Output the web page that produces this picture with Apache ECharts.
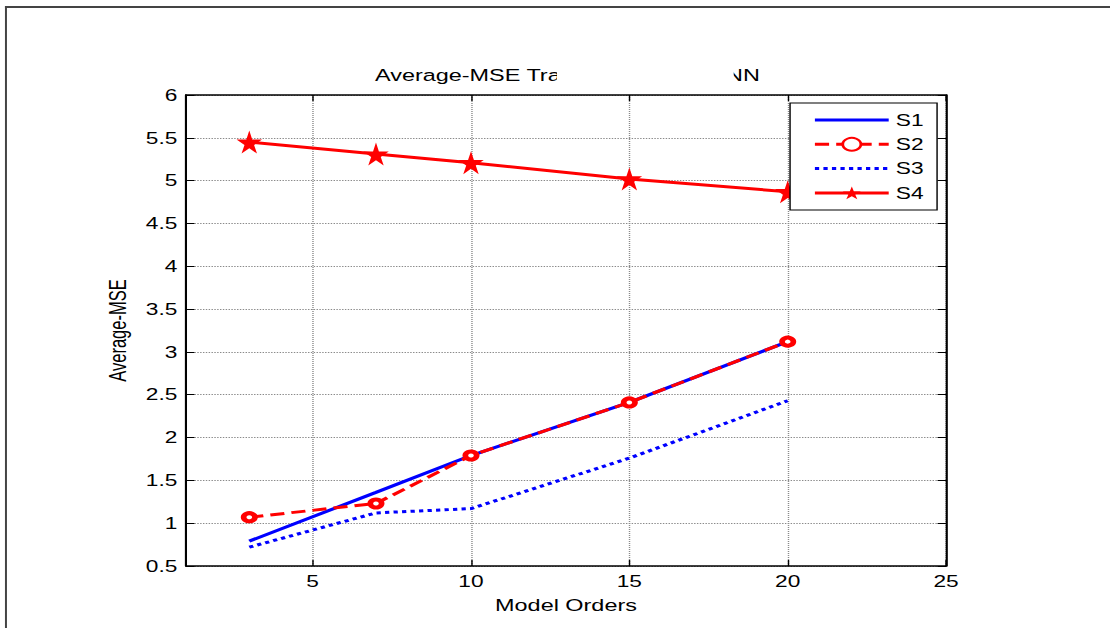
<!DOCTYPE html>
<html><head><meta charset="utf-8">
<script src="https://cdn.jsdelivr.net/npm/echarts@6/dist/echarts.min.js"></script>
<style>
html,body{margin:0;padding:0;background:#fff;overflow:hidden;width:1110px;height:628px}
#main{width:782px;height:628px;transform:scaleX(1.419437);transform-origin:0 0;}
</style>
</head><body><div id="main"></div>
<script>
// ---- data ----
const modelOrders = [3, 7, 10, 15, 20];
const s1 = [0.79, 1.36, 1.79, 2.41, 3.12];
const s2 = [1.07, 1.23, 1.79, 2.41, 3.12];
const s3 = [0.72, 1.12, 1.17, 1.76, 2.43];
const s4 = [5.45, 5.31, 5.21, 5.02, 4.87];
const seriesNames = ['S1', 'S2', 'S3', 'S4'];
const xTicks = [5, 10, 15, 20, 25];
const xMin = 1, xMax = 25;
const yMin = 0.5, yMax = 6, yStep = 0.5;
const titleHead = 'Average-MSE Tra';
const titleTail = 'NN';
const xName = 'Model Orders';
const yName = 'Average-MSE';

const FONT = "'Liberation Sans', Arial, sans-serif";
const pairs = arr => modelOrders.map((x, i) => [x, arr[i]]);
const star = 'path://M50,0 L61,35 L98,35 L68,57 L79,91 L50,70 L21,91 L32,57 L2,35 L39,35 Z';

const chart = echarts.init(document.getElementById('main'), null, {renderer: 'svg'});
const tickStyle = {show: true, inside: true, length: 6, lineStyle: {color: '#000', width: 1}};
const axisLineStyle = {show: true, onZero: false, lineStyle: {color: '#000', width: 1.5}};
const gridLine = {show: true, lineStyle: {color: '#8a8a8a', width: 1, type: [1, 1]}};
const noSymbol = {opacity: 0, color: 'rgba(0,0,0,0)', borderColor: 'rgba(0,0,0,0)'};

chart.setOption({
  animation: false,
  backgroundColor: '#fff',
  textStyle: {fontFamily: FONT},
  grid: {left: 131, right: 115.5, top: 95, bottom: 62, containLabel: false},
  legend: {
    orient: 'vertical', left: 556.6, top: 103,
    padding: [9, 9.5, 9, 16],
    itemWidth: 52, itemHeight: 16, itemGap: 8.3,
    backgroundColor: '#fff', borderColor: '#000', borderWidth: 1, borderRadius: 0,
    lineStyle: {width: 3},
    textStyle: {fontFamily: FONT, fontSize: 16, color: '#000', lineHeight: 16},
    data: [
      {name: seriesNames[0], itemStyle: noSymbol},
      {name: seriesNames[1]},
      {name: seriesNames[2], itemStyle: noSymbol},
      {name: seriesNames[3]}
    ]
  },
  xAxis: [{
    type: 'value', position: 'bottom', min: xMin, max: xMax,
    name: xName, nameLocation: 'middle', nameGap: 31,
    nameTextStyle: {fontFamily: FONT, fontSize: 16.5, color: '#000'},
    axisLine: axisLineStyle,
    axisTick: Object.assign({customValues: xTicks}, tickStyle),
    axisLabel: {customValues: xTicks, fontFamily: FONT, fontSize: 16, color: '#000', margin: 7},
    splitLine: gridLine
  }, {
    type: 'value', position: 'top', min: xMin, max: xMax,
    axisLine: axisLineStyle,
    axisTick: Object.assign({customValues: xTicks}, tickStyle),
    axisLabel: {show: false, customValues: xTicks},
    splitLine: {show: false}
  }],
  yAxis: [{
    type: 'value', position: 'left', min: yMin, max: yMax, interval: yStep,
    name: yName, nameLocation: 'middle', nameGap: 37, nameRotate: 90,
    nameTextStyle: {fontFamily: FONT, fontSize: 16.5, color: '#000'},
    axisLine: axisLineStyle, axisTick: tickStyle,
    axisLabel: {fontFamily: FONT, fontSize: 16, color: '#000', margin: 6},
    splitLine: gridLine
  }, {
    type: 'value', position: 'right', min: yMin, max: yMax, interval: yStep,
    axisLine: axisLineStyle, axisTick: tickStyle,
    axisLabel: {show: false}, splitLine: {show: false}
  }],
  series: [{
    name: seriesNames[0], type: 'line', data: pairs(s1), symbol: 'none',
    color: '#0000ff', lineStyle: {color: '#0000ff', width: 3}, z: 2
  }, {
    name: seriesNames[1], type: 'line', data: pairs(s2),
    symbol: 'circle', symbolSize: 8, showAllSymbol: true,
    color: '#ff0000',
    itemStyle: {color: '#ffffff', borderColor: '#ff0000', borderWidth: 4},
    lineStyle: {color: '#ff0000', width: 3, type: [10, 5]}, z: 3
  }, {
    name: seriesNames[2], type: 'line', data: pairs(s3), symbol: 'none',
    color: '#0000ff', lineStyle: {color: '#0000ff', width: 3, type: [3, 3]}, z: 2
  }, {
    name: seriesNames[3], type: 'line', data: pairs(s4),
    symbol: star, symbolSize: [18, 23], showAllSymbol: true,
    color: '#ff0000',
    itemStyle: {color: '#ff0000', borderColor: '#ff0000', borderWidth: 0},
    lineStyle: {color: '#ff0000', width: 3}, z: 3
  }],
  graphic: [
    {type: 'line', silent: true, z: 50, shape: {x1: 4.2, y1: 6, x2: 4.2, y2: 640}, style: {stroke: '#444', lineWidth: 1.4}},
    {type: 'line', silent: true, z: 50, shape: {x1: 3.5, y1: 7, x2: 800, y2: 7}, style: {stroke: '#444', lineWidth: 2}},
    {type: 'text', z: 10, left: 264.2, top: 67, style: {text: titleHead, font: '16.5px ' + FONT, fill: '#000'}},
    {type: 'text', z: 10, left: 511.5, top: 67, style: {text: titleTail, font: '16.5px ' + FONT, fill: '#000'}},
    {type: 'rect', z: 20, shape: {x: 392.4, y: 58, width: 124.5, height: 32}, style: {fill: '#fff'}}
  ]
});
</script>
</body></html>
